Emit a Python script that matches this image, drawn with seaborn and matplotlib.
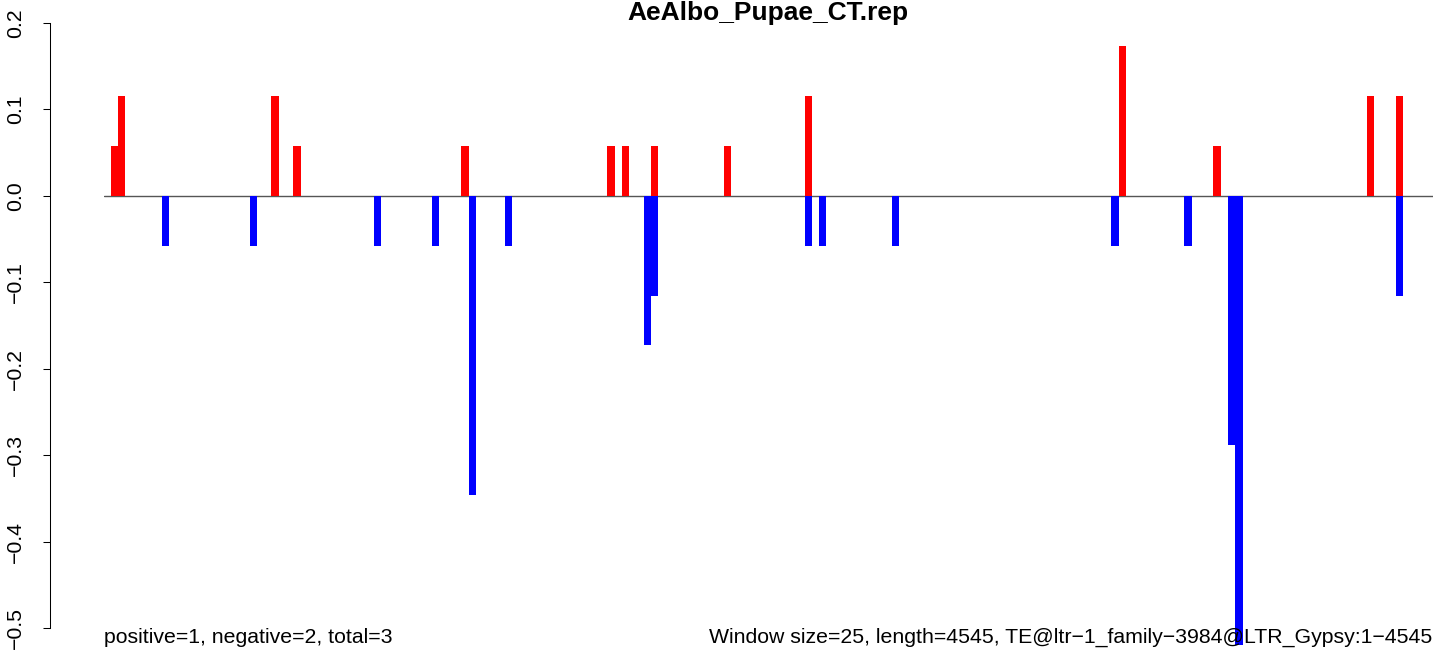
import numpy as np
import pandas as pd
import matplotlib.pyplot as plt
import seaborn as sns

sns.set_style("white")
plt.rcParams['font.family'] = ['Liberation Sans', 'DejaVu Sans']
plt.rcParams['text.color'] = 'black'

# windows of 25 bp over a 4545 bp element
n_windows = 182

# positive strand values (red)
pos_index = [1, 2, 23, 26, 49, 69, 71, 75, 85, 96, 139, 152, 173, 177]
pos_value = [0.0577, 0.1154, 0.1154, 0.0577, 0.0577, 0.0577, 0.0577, 0.0577,
             0.0577, 0.1154, 0.1731, 0.0577, 0.1154, 0.1154]

# negative strand values (blue)
neg_index = [8, 20, 37, 45, 50, 55, 74, 75, 96, 98, 108, 138, 148, 154, 155, 177]
neg_value = [-0.0577, -0.0577, -0.0577, -0.0577, -0.3462, -0.0577, -0.1731, -0.1154,
             -0.0577, -0.0577, -0.0577, -0.0577, -0.0577, -0.2885, -0.5192, -0.1154]

y_ticks = [-0.5, -0.4, -0.3, -0.2, -0.1, 0.0, 0.1, 0.2]

title = "AeAlbo_Pupae_CT.rep"
left_note = "positive=1, negative=2, total=3"
right_note = "Window size=25, length=4545, TE@ltr\u22121_family\u22123984@LTR_Gypsy:1\u22124545"

# build full-length tables
win = np.arange(n_windows)
pos = np.zeros(n_windows)
pos[pos_index] = pos_value
neg = np.zeros(n_windows)
neg[neg_index] = neg_value
df = pd.DataFrame({'window': win, 'pos': pos, 'neg': neg})

W, H = 1444, 656
fig = plt.figure(figsize=(W / 100, H / 100), dpi=100)
ax = fig.add_axes([103.5 / W, 0.0, 1329 / W, 1.0])

sns.barplot(data=df, x='window', y='pos', order=list(win), color='#FF0000',
            saturation=1, width=1.0, linewidth=0, errorbar=None, ax=ax)
sns.barplot(data=df, x='window', y='neg', order=list(win), color='#0000FF',
            saturation=1, width=1.0, linewidth=0, errorbar=None, ax=ax)
ax.axhline(0, color='#555555', lw=1.0, zorder=0)

# R-like detached y axis (set before the ticks, it resets them)
for s in ['top', 'right', 'bottom']:
    ax.spines[s].set_visible(False)
ax.spines['left'].set_position(('outward', 38.5))
ax.spines['left'].set_bounds(-0.5, 0.2)
ax.spines['left'].set_linewidth(0.75)
ax.spines['left'].set_color('black')

ax.set_xlim(-0.5, n_windows - 0.5)
ax.set_ylim(-0.5 - 28 / 864.5, 0.2 + 23 / 864.5)
ax.set_xticks([])
ax.set_xlabel('')
ax.set_ylabel('')
ax.set_yticks(y_ticks)
ax.set_yticklabels([f"{v:.1f}".replace('-', '\u2212') for v in y_ticks])
ax.tick_params(axis='y', left=True, length=5, width=0.75, pad=13,
               colors='black', labelsize=15.3, labelrotation=90)
for lab in ax.get_yticklabels():
    lab.set_verticalalignment('center')

fig.text((103.5 + 1329 / 2) / W, 1 - 20 / H, title, ha='center', va='baseline',
         fontsize=19, fontweight='bold', color='black')
fig.text(104 / W, 13 / H, left_note, ha='left', va='baseline', fontsize=15.3,
         color='black')
fig.text(1432 / W, 13 / H, right_note, ha='right', va='baseline', fontsize=15.3,
         color='black')

fig.savefig('out.png', dpi=100)
